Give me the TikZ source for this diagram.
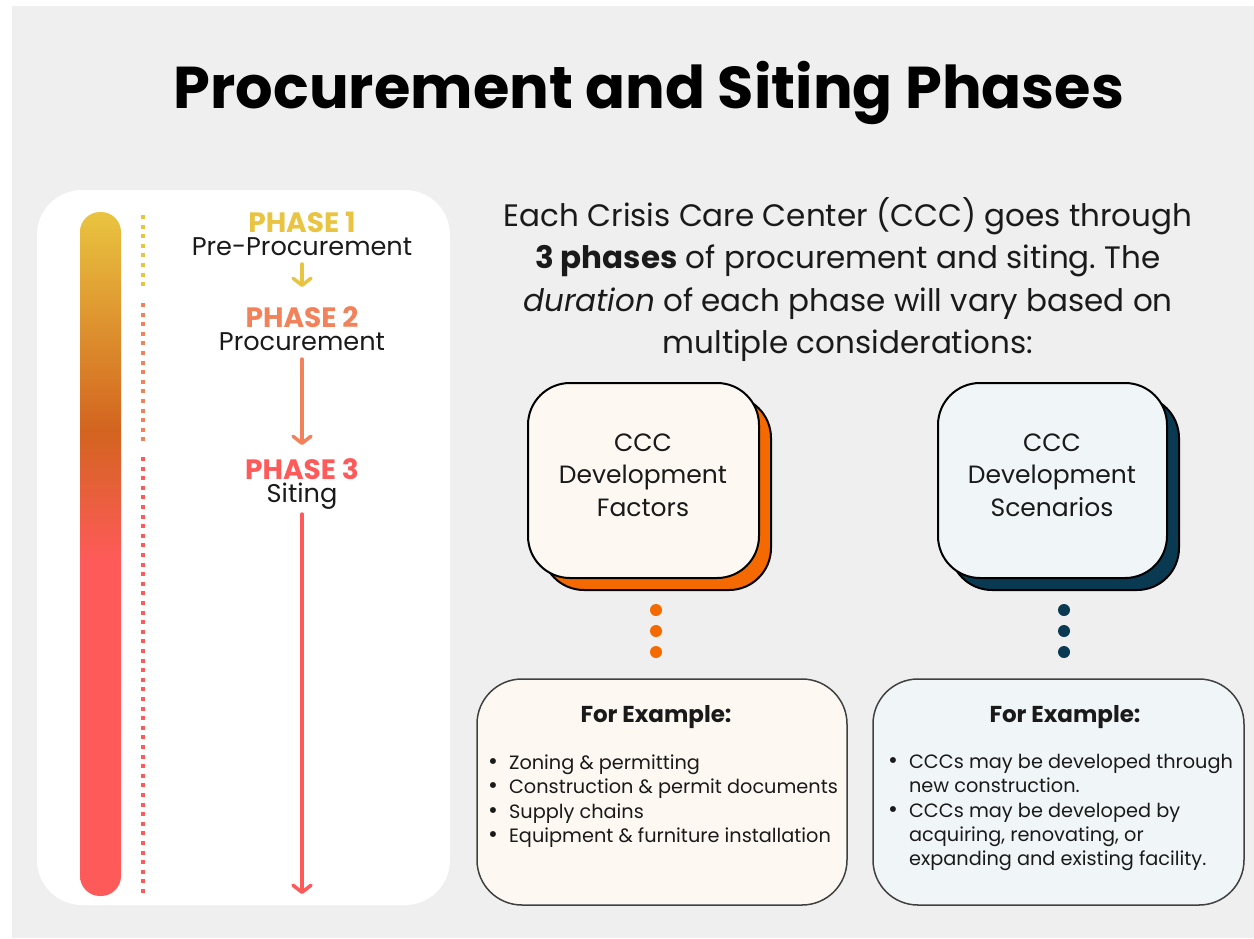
\documentclass[tikz,border=0pt]{standalone}
\usepackage{fontspec}
\setmainfont{Poppins}
\usetikzlibrary{arrows.meta}
\frenchspacing
\definecolor{bg}{HTML}{EFEFEF}
\definecolor{pyellow}{HTML}{E9C440}
\definecolor{psalmon}{HTML}{F2825A}
\definecolor{pred}{HTML}{FF5A5A}
\definecolor{porange}{HTML}{D3641F}
\definecolor{cream}{HTML}{FDF9F2}
\definecolor{ice}{HTML}{F0F5F8}
\definecolor{shorange}{HTML}{F56A00}
\definecolor{shnavy}{HTML}{0A3A52}
\definecolor{ink}{HTML}{1A1A1A}
\pgfdeclareverticalshading{phasebar}{100bp}{color(0bp)=(pred); color(49.5bp)=(pred); color(59bp)=(porange); color(75bp)=(pyellow); color(100bp)=(pyellow)}
\newcommand{\bul}{\smash{\fontsize{24}{24}\selectfont\textbullet}}
\newcommand{\phasehead}[2]{{\fontsize{28}{23}\selectfont\bfseries\textcolor{#1}{#2}}}
\tikzset{
  title/.style={font=\fontsize{59}{62}\selectfont\bfseries, text=black, inner sep=0},
  phasenode/.style={font=\fontsize{25.6}{23}\selectfont, text=ink, inner sep=0, align=center},
  flow/.style={line width=3.5pt, line cap=round, -{Straight Barb[length=7pt,width=18pt,line cap=round,line join=round]}},
  dotline/.style={line width=4.5pt, dash pattern=on 4pt off 5.6pt},
  para/.style={font=\fontsize{31}{42.5}\selectfont, text=ink, align=center, inner sep=0},
  cccbox/.style={draw=black, line width=2pt, rounded corners=42pt},
  ccctext/.style={font=\fontsize{25}{32.5}\selectfont, text=ink, align=center, inner sep=0},
  exbox/.style={draw=black!75, line width=1.5pt, rounded corners=45pt},
  exhead/.style={font=\fontsize{23}{26}\selectfont\bfseries, text=ink, inner sep=0},
  exlist/.style={font=\fontsize{19.3}{24.4}\selectfont, text=ink, inner sep=0, align=left},
  bigdot/.style={circle, inner sep=0, minimum size=12pt}
}
\begin{document}
\begin{tikzpicture}[x=1pt, y=-1pt]
\useasboundingbox (0,0) rectangle (1254,938);
\fill[white] (0,0) rectangle (1254,938);
\fill[bg] (12,6) rectangle (1254,938);
% title
\node[title, anchor=base] (title) at (649,108) {Procurement and Siting Phases};
% left panel
\fill[white, rounded corners=45pt] (37,190) rectangle (450,905);
\shade[shading=phasebar, rounded corners=20pt] (80,212) rectangle (121,896);
\draw[dotline, pyellow] (143,215) -- (143,290);
\draw[dotline, psalmon] (143,303) -- (143,445);
\draw[dotline, pred] (143,457) -- (143,895);
% phases
\node[phasenode, anchor=base] (p1) at (302,255) {\phasehead{pyellow}{PHASE 1}\\ Pre-Procurement};
\node[phasenode, anchor=base] (p2) at (302,350) {\phasehead{psalmon}{PHASE 2}\\ Procurement};
\node[phasenode, anchor=base] (p3) at (302,502) {\phasehead{pred}{PHASE 3}\\ Siting};
\coordinate (a1s) at (302,264); \coordinate (a1e) at (302,287);
\coordinate (a2s) at (302,359); \coordinate (a2e) at (302,445);
\coordinate (a3s) at (302,514); \coordinate (a3e) at (302,894);
\draw[flow, pyellow] (a1s) -- (a1e);
\draw[flow, psalmon] (a2s) -- (a2e);
\draw[flow, pred] (a3s) -- (a3e);
% paragraph
\node[para, anchor=base] (para) at (848,353.5) {Each Crisis Care Center (CCC) goes through\\ \textbf{3 phases} of procurement and siting. The\\ \textit{duration} of each phase will vary based on\\ multiple considerations:};
% CCC boxes
\draw[cccbox, fill=shorange] (542,396) rectangle (771,590);
\draw[cccbox, fill=cream] (528,383) rectangle (759,578);
\node[ccctext] (fac) at (643,475) {CCC\\ Development\\ Factors};
\draw[cccbox, fill=shnavy] (950,396) rectangle (1179,590);
\draw[cccbox, fill=ice] (938,383) rectangle (1167,578);
\node[ccctext] (scn) at (1052,475) {CCC\\ Development\\ Scenarios};
% dots
\foreach \y/\n in {610/1,631/2,652/3}{
  \node[bigdot, fill=shorange] (od\n) at (656,\y) {};
  \node[bigdot, fill=shnavy] (nd\n) at (1064,\y) {};
}
% example boxes
\draw[exbox, fill=cream] (477,679) rectangle (847,905);
\node[exhead, anchor=base] (exh1) at (656,722) {For Example:};
\node[exlist, anchor=north west] (exl1) at (488,752) {\begin{tabular}{@{}c@{\hspace{11pt}}l@{}}
\bul & Zoning \& permitting\\
\bul & Construction \& permit documents\\
\bul & Supply chains\\
\bul & Equipment \& furniture installation
\end{tabular}};
\draw[exbox, fill=ice] (873,679) rectangle (1244,905);
\node[exhead, anchor=base] (exh2) at (1065,722) {For Example:};
\node[exlist, anchor=north west] (exl2) at (888,751) {\begin{tabular}{@{}c@{\hspace{11pt}}l@{}}
\bul & CCCs may be developed through\\
 & new construction.\\
\bul & CCCs may be developed by\\
 & acquiring, renovating, or\\
 & expanding and existing facility.
\end{tabular}};
\end{tikzpicture}
\end{document}
